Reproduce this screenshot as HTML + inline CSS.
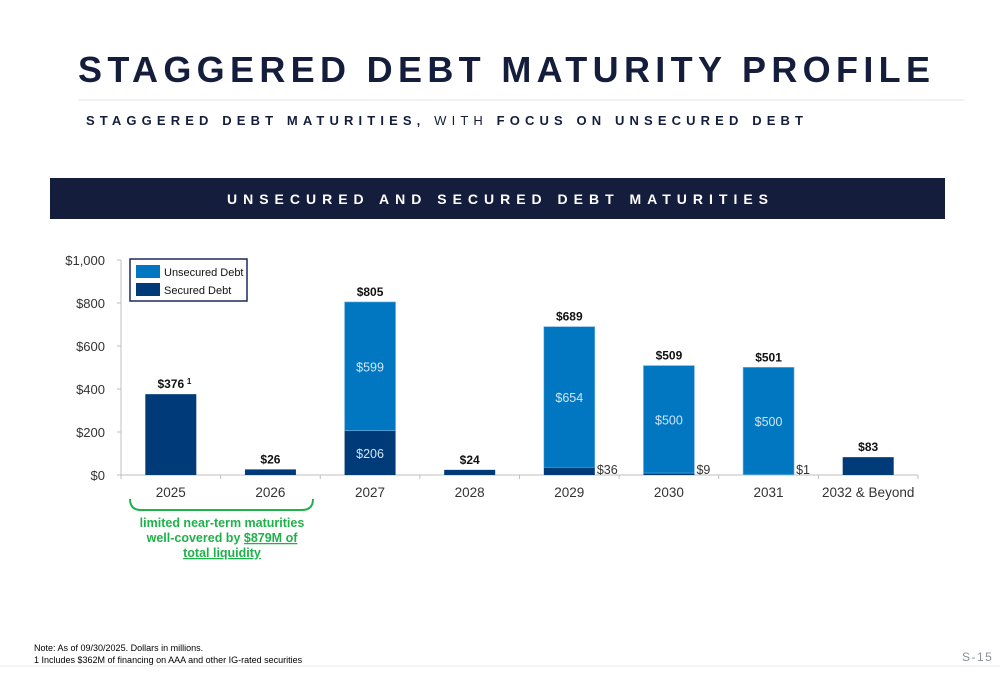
<!DOCTYPE html>
<html><head><meta charset="utf-8"><style>
html,body{margin:0;padding:0;background:#fff;}
svg{display:block;font-family:"Liberation Sans","DejaVu Sans",sans-serif;}
</style></head><body>
<svg id="pg" width="1000" height="685" viewBox="0 0 1000 685" xmlns="http://www.w3.org/2000/svg">
<text x="78" y="82" font-size="36" font-weight="bold" fill="#141e3c" textLength="852" lengthAdjust="spacing">STAGGERED DEBT MATURITY PROFILE</text>
<line x1="78" y1="100" x2="965" y2="100" stroke="#e6e6e6" stroke-width="1"/>
<text x="86" y="125" font-size="13" font-weight="bold" fill="#141e3c" textLength="717" lengthAdjust="spacing">STAGGERED DEBT MATURITIES, <tspan font-weight="normal">WITH</tspan> FOCUS ON UNSECURED DEBT</text>
<rect x="50" y="178" width="895" height="41" fill="#141e3c"/>
<text x="227" y="204" font-size="14" font-weight="bold" fill="#fff" textLength="541" lengthAdjust="spacing">UNSECURED AND SECURED DEBT MATURITIES</text>
<g id="chart"></g>
<path d="M130,499 q0,11 11,11 h161 q11,0 11,-11" fill="none" stroke="#1fb24a" stroke-width="2"/>
<g font-size="12.5" font-weight="bold" fill="#1fb24a" text-anchor="middle">
<text x="222" y="527">limited near-term maturities</text>
<text x="222" y="542">well-covered by <tspan text-decoration="underline">$879M of</tspan></text>
<text x="222" y="557" text-decoration="underline">total liquidity</text>
</g>
<text x="34" y="651" font-size="9" fill="#000">Note: As of 09/30/2025. Dollars in millions.</text>
<text x="34" y="663" font-size="9" fill="#000">1 Includes $362M of financing on AAA and other IG-rated securities</text>
<line x1="0" y1="666" x2="1000" y2="666" stroke="#e8e8e8" stroke-width="1"/>
<text x="962" y="661" font-size="12" fill="#8a8f99" letter-spacing="1.5">S-15</text>
</svg>
<script>
const categories=["2025","2026","2027","2028","2029","2030","2031","2032 & Beyond"];
const secured=[376,26,206,24,36,9,1,83];
const unsecured=[0,0,599,0,654,500,500,0];
const totals=["$376","$26","$805","$24","$689","$509","$501","$83"];
const yTicks=[0,200,400,600,800,1000];
const yTickLabels=["$0","$200","$400","$600","$800","$1,000"];
const NS="http://www.w3.org/2000/svg";
const g=document.getElementById('chart');
const x0=121,x1=918,yBase=475,yTop=260,yMax=1000;
const step=(x1-x0)/categories.length;
function y(v){return yBase-(v/yMax)*(yBase-yTop);}
function xc(i){return x0+step*(i+0.5);}
function mk(tag,attrs,txt){const e=document.createElementNS(NS,tag);for(const k in attrs)e.setAttribute(k,attrs[k]);if(txt!==undefined)e.textContent=txt;g.appendChild(e);return e;}
let e=mk('line',{x1:x0,y1:yTop,x2:x0,y2:yBase,stroke:'#bfbfbf'});


e=mk('line',{x1:x0,y1:yBase,x2:x1,y2:yBase,stroke:'#bfbfbf'});


yTicks.forEach((t,i)=>{
  let l=mk('line',{x1:x0-4,y1:y(t),x2:x0,y2:y(t),stroke:'#bfbfbf'});
  
  
  let tx=mk('text',{x:105,y:y(t)+5,'font-size':13,fill:'#333','text-anchor':'end'},yTickLabels[i]);
  
  
});
for(let i=0;i<=categories.length;i++){
  let l=mk('line',{x1:x0+step*i,y1:yBase,x2:x0+step*i,y2:yBase+4,stroke:'#bfbfbf'});
  
  
}
const bw=51;
categories.forEach((c,i)=>{
  const cx=xc(i),s=secured[i],u=unsecured[i];
  let r=mk('rect',{x:cx-bw/2,y:y(s),width:bw,height:yBase-y(s),fill:'#013a78'});
  
  
  if(u>0){
    let r2=mk('rect',{x:cx-bw/2,y:y(s+u),width:bw,height:y(s)-y(s+u),fill:'#0077c0',stroke:'#7fb8e0','stroke-width':0.6});
    
    
    let t=mk('text',{x:cx,y:(y(s)+y(s+u))/2+5,'font-size':12.5,fill:'#cfe6f7','text-anchor':'middle'},'$'+u);
    
    
    if(s>100){
      let t2=mk('text',{x:cx,y:(y(s)+yBase)/2+5,'font-size':12.5,fill:'#cfe6f7','text-anchor':'middle'},'$'+s);
      
      
    } else {
      let t2=mk('text',{x:cx+bw/2+2,y:yBase-1,'font-size':12.5,fill:'#333'},'$'+s);
      
      
    }
  }
  let tt=mk('text',{x:cx,y:y(s+u)-6,'font-size':12,'font-weight':'bold',fill:'#111','text-anchor':'middle'},totals[i]);
  
  
  if(i===0){
    let sup=mk('text',{x:cx+16,y:y(s+u)-10,'font-size':8,'font-weight':'bold',fill:'#111'},'1');
    
    
  }
  let xl=mk('text',{x:cx,y:497,'font-size':13.5,fill:'#333','text-anchor':'middle'},c);
  
  
});
let lb=mk('rect',{x:130,y:259,width:117,height:42,fill:'#fff',stroke:'#1a2a5e','stroke-width':1.5});


let s1=mk('rect',{x:136,y:265,width:24,height:13,fill:'#0077c0'});


let l1=mk('text',{x:164,y:276,'font-size':11,fill:'#111'},'Unsecured Debt');


let s2=mk('rect',{x:136,y:283,width:24,height:13,fill:'#013a78'});


let l2=mk('text',{x:164,y:294,'font-size':11,fill:'#111'},'Secured Debt');


</script>
</body></html>
